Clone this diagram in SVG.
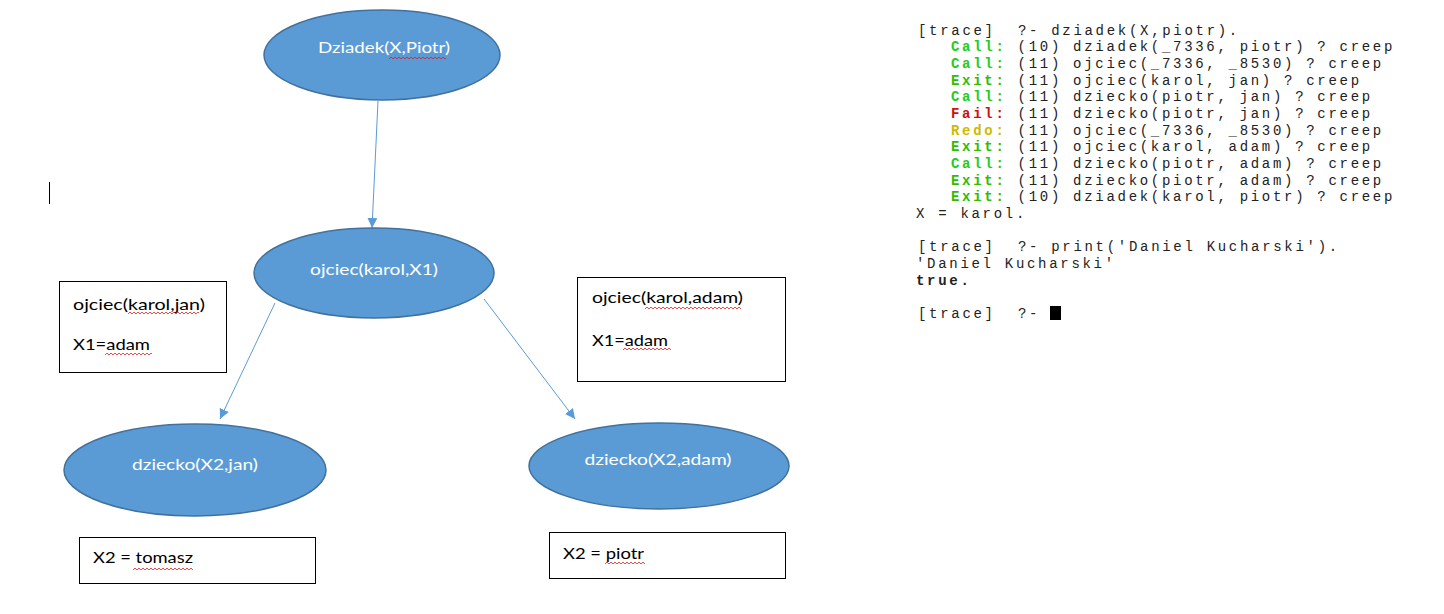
<svg xmlns="http://www.w3.org/2000/svg" xmlns:xlink="http://www.w3.org/1999/xlink" width="1444" height="614" viewBox="0 0 1444 614">
<style>
.node{fill:#5B9BD5;stroke:#41719C;stroke-width:1.5}
.nt{font-family:Lato,"Liberation Sans",sans-serif;font-size:16px;fill:#ffffff;text-anchor:middle}
.box{fill:#ffffff;stroke:#000000;stroke-width:1}
.bt{font-family:Lato,"Liberation Sans",sans-serif;font-size:16px;fill:#000000}
.edge{stroke:#5B9BD5;stroke-width:1;fill:none;marker-end:url(#ah)}
.tr{font-family:"Liberation Mono","Courier New",monospace;font-size:14px;letter-spacing:2.7px;fill:#222222;white-space:pre}
.call{fill:#22CC22;font-weight:bold}
.exit{fill:#33BB00;font-weight:bold}
.fail{fill:#CC1111;font-weight:bold}
.redo{fill:#CCBB00;font-weight:bold}
.sq{stroke:#E02020;stroke-width:0.8;fill:none}
</style>
<defs>
<marker id="ah" viewBox="0 0 10 10" refX="10" refY="5" markerWidth="10" markerHeight="10" markerUnits="userSpaceOnUse" orient="auto">
<path d="M0,0 L10,5 L0,10 Z" fill="#5B9BD5"/>
</marker>
<path id="zz" class="sq" d="M0 3l2-2l2 2l2-2l2 2l2-2l2 2l2-2l2 2l2-2l2 2l2-2l2 2l2-2l2 2l2-2l2 2l2-2l2 2l2-2l2 2l2-2l2 2l2-2l2 2l2-2l2 2l2-2l2 2l2-2l2 2l2-2l2 2l2-2l2 2l2-2l2 2l2-2l2 2l2-2l2 2l2-2l2 2l2-2l2 2l2-2l2 2l2-2l2 2l2-2l2 2l2-2l2 2l2-2l2 2l2-2l2 2l2-2l2 2l2-2l2 2l2-2l2 2l2-2l2 2l2-2l2 2l2-2l2 2"/>
</defs>
<rect width="1444" height="614" fill="#ffffff"/>
<line x1="49.5" y1="182" x2="49.5" y2="204" stroke="#000" stroke-width="1"/>
<g id="connectors">
<line class="edge" x1="378" y1="101" x2="372" y2="228"/>
<line class="edge" x1="275" y1="303" x2="220" y2="419"/>
<line class="edge" x1="484" y1="299" x2="575" y2="419"/>
</g>
<g id="n-dziadek">
<ellipse class="node" cx="382" cy="55" rx="118" ry="45"/>
<text class="nt" x="384" y="53" textLength="132" lengthAdjust="spacingAndGlyphs">Dziadek(X,Piotr)</text>
<svg x="389" y="56" width="57" height="4"><use xlink:href="#zz"/></svg>
</g>
<g id="n-ojciec">
<ellipse class="node" cx="374" cy="273" rx="120" ry="45"/>
<text class="nt" x="374" y="275" textLength="128" lengthAdjust="spacingAndGlyphs">ojciec(karol,X1)</text>
</g>
<g id="box-jan">
<rect class="box" x="59.5" y="281.5" width="167" height="91"/>
<text class="bt" x="73" y="310" textLength="132" lengthAdjust="spacingAndGlyphs">ojciec(karol,jan)</text>
<text class="bt" x="73" y="350" textLength="77" lengthAdjust="spacingAndGlyphs">X1=adam</text>
<svg x="128" y="311" width="71" height="4"><use xlink:href="#zz"/></svg>
<svg x="105" y="352" width="47" height="4"><use xlink:href="#zz"/></svg>
</g>
<g id="box-adam">
<rect class="box" x="577.5" y="277.5" width="208" height="104"/>
<text class="bt" x="592" y="303" textLength="151" lengthAdjust="spacingAndGlyphs">ojciec(karol,adam)</text>
<text class="bt" x="592" y="346" textLength="76" lengthAdjust="spacingAndGlyphs">X1=adam</text>
<svg x="645" y="306" width="96" height="4"><use xlink:href="#zz"/></svg>
<svg x="623" y="347" width="48" height="4"><use xlink:href="#zz"/></svg>
</g>
<g id="n-dziecko-jan">
<ellipse class="node" cx="195" cy="470" rx="131" ry="46"/>
<text class="nt" x="195" y="470" textLength="126" lengthAdjust="spacingAndGlyphs">dziecko(X2,jan)</text>
</g>
<g id="n-dziecko-adam">
<ellipse class="node" cx="659" cy="466" rx="130" ry="43"/>
<text class="nt" x="658" y="465" textLength="147" lengthAdjust="spacingAndGlyphs">dziecko(X2,adam)</text>
</g>
<g id="box-tomasz">
<rect class="box" x="79.5" y="537.5" width="236" height="46"/>
<text class="bt" x="93" y="563" textLength="100" lengthAdjust="spacingAndGlyphs">X2 = tomasz</text>
<svg x="133" y="567" width="60" height="4"><use xlink:href="#zz"/></svg>
</g>
<g id="box-piotr">
<rect class="box" x="549.5" y="532.5" width="236" height="46"/>
<text class="bt" x="563" y="559" textLength="81" lengthAdjust="spacingAndGlyphs">X2 = piotr</text>
<svg x="605" y="561" width="40" height="4"><use xlink:href="#zz"/></svg>
</g>
<g id="trace">
<text class="tr" x="918" y="35">[trace]  ?- dziadek(X,piotr).</text>
<text class="tr" x="951" y="51"><tspan class="call">Call:</tspan> (10) dziadek(_7336, piotr) ? creep</text>
<text class="tr" x="951" y="68"><tspan class="call">Call:</tspan> (11) ojciec(_7336, _8530) ? creep</text>
<text class="tr" x="951" y="85"><tspan class="exit">Exit:</tspan> (11) ojciec(karol, jan) ? creep</text>
<text class="tr" x="951" y="101"><tspan class="call">Call:</tspan> (11) dziecko(piotr, jan) ? creep</text>
<text class="tr" x="951" y="118"><tspan class="fail">Fail:</tspan> (11) dziecko(piotr, jan) ? creep</text>
<text class="tr" x="951" y="135"><tspan class="redo">Redo:</tspan> (11) ojciec(_7336, _8530) ? creep</text>
<text class="tr" x="951" y="151"><tspan class="exit">Exit:</tspan> (11) ojciec(karol, adam) ? creep</text>
<text class="tr" x="951" y="168"><tspan class="call">Call:</tspan> (11) dziecko(piotr, adam) ? creep</text>
<text class="tr" x="951" y="185"><tspan class="exit">Exit:</tspan> (11) dziecko(piotr, adam) ? creep</text>
<text class="tr" x="951" y="201"><tspan class="exit">Exit:</tspan> (10) dziadek(karol, piotr) ? creep</text>
<text class="tr" x="916" y="218">X = karol.</text>
<text class="tr" x="918" y="251">[trace]  ?- print('Daniel Kucharski').</text>
<text class="tr" x="916" y="268">'Daniel Kucharski'</text>
<text class="tr" x="916" y="285" font-weight="bold">true.</text>
<text class="tr" x="918" y="318">[trace]  ?- </text>
<rect x="1050" y="306" width="11" height="14" fill="#000"/>
</g>
</svg>
